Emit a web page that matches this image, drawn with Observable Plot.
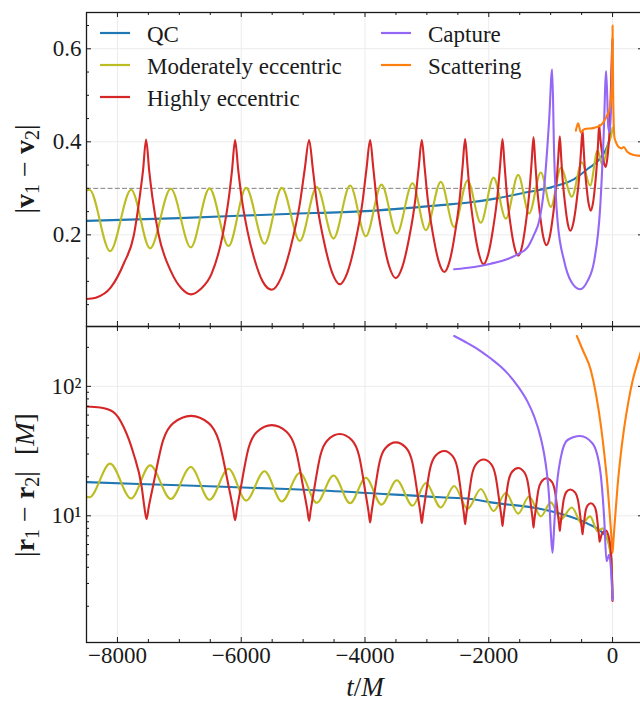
<!DOCTYPE html>
<html><head><meta charset="utf-8">
<script src="https://cdn.jsdelivr.net/npm/d3@7"></script>
<script src="https://cdn.jsdelivr.net/npm/@observablehq/plot@0.6"></script>
<style>
body{margin:0;background:#fff;}
#chart{position:relative;width:640px;height:702px;overflow:hidden;}
#chart svg{position:absolute;left:0;top:0;}
#chart text{font-family:"Liberation Serif",serif;}
</style></head><body><div id="chart"></div>
<script>
// ---------- data: [t/M, value] ----------
const qcV = [[-8500,0.230],[-7000,0.236],[-5263,0.245],[-4000,0.251],[-2775,0.264],[-2290,0.270],[-1850,0.279],[-1480,0.289],[-950,0.304],[-620,0.320],[-400,0.342],[-190,0.366],[-80,0.392],[-20,0.42]];
const modV = [[-8500,0.295],[-8452,0.297],[-8119,0.165],[-7779,0.297],[-7472,0.171],[-7138,0.299],[-6815,0.173],[-6512,0.300],[-6205,0.176],[-5921,0.301],[-5624,0.181],[-5344,0.301],[-5053,0.187],[-4779,0.303],[-4509,0.192],[-4240,0.306],[-3987,0.197],[-3733,0.308],[-3486,0.203],[-3232,0.311],[-3017,0.210],[-2775,0.314],[-2560,0.217],[-2343,0.317],[-2128,0.226],[-1923,0.323],[-1724,0.235],[-1525,0.329],[-1348,0.246],[-1159,0.334],[-997,0.260],[-835,0.344],[-658,0.282],[-496,0.356],[-362,0.306],[-242,0.381],[-162,0.350],[-80,0.39],[-30,0.41],[0,0.43]];
const highV = [[-8500,0.062],[-8350,0.065],[-8107,0.087],[-7892,0.140],[-7737,0.198],[-7637,0.285],[-7587,0.338],[-7537,0.405],
[-7487,0.338],[-7437,0.282],[-7337,0.202],[-7137,0.122],[-6960,0.084],[-6810,0.072],
[-6660,0.083],[-6480,0.116],[-6299,0.200],[-6199,0.281],[-6149,0.338],[-6099,0.404],
[-6049,0.340],[-5999,0.285],[-5899,0.208],[-5780,0.145],[-5654,0.100],[-5506,0.082],
[-5355,0.108],[-5204,0.172],[-5054,0.266],[-4975,0.340],[-4903,0.404],
[-4843,0.342],[-4779,0.271],[-4655,0.181],[-4531,0.119],[-4407,0.094],
[-4285,0.119],[-4162,0.181],[-4040,0.271],[-3976,0.342],[-3917,0.404],
[-3867,0.345],[-3813,0.276],[-3709,0.190],[-3606,0.131],[-3502,0.107],
[-3397,0.131],[-3292,0.190],[-3187,0.276],[-3132,0.345],[-3082,0.404],
[-3038,0.347],[-2991,0.282],[-2900,0.200],[-2809,0.143],[-2718,0.120],
[-2634,0.143],[-2550,0.200],[-2466,0.283],[-2422,0.349],[-2382,0.406],
[-2346,0.352],[-2308,0.290],[-2234,0.212],[-2159,0.159],[-2085,0.137],
[-2008,0.159],[-1932,0.212],[-1855,0.290],[-1815,0.352],[-1778,0.406],
[-1748,0.356],[-1715,0.298],[-1652,0.225],[-1588,0.175],[-1525,0.155],
[-1463,0.175],[-1401,0.226],[-1339,0.300],[-1307,0.358],[-1277,0.410],
[-1252,0.363],[-1225,0.310],[-1172,0.243],[-1120,0.196],[-1067,0.178],
[-1013,0.197],[-960,0.244],[-906,0.311],[-878,0.365],[-852,0.412],
[-832,0.371],[-810,0.325],[-767,0.266],[-725,0.225],[-682,0.209],
[-633,0.226],[-584,0.269],[-534,0.332],[-509,0.382],[-485,0.425],
[-469,0.390],[-452,0.351],[-418,0.300],[-385,0.266],[-351,0.252],
[-318,0.267],[-284,0.304],[-251,0.357],[-233,0.399],[-217,0.436],
[-204,0.418],[-190,0.397],[-163,0.371],[-135,0.353],[-108,0.346],
[-80,0.370],[-50,0.420],[-25,0.520],[-8,0.600],[0,0.620]];
const capV = [[-2560,0.126],[-2236,0.131],[-1967,0.138],[-1697,0.148],[-1535,0.158],[-1374,0.173],[-1267,0.201],[-1186,0.230],[-1105,0.302],[-1025,0.446],[-976,0.556],[-944,0.374],[-889,0.230],[-782,0.144],[-674,0.101],[-524,0.083],[-404,0.101],[-297,0.144],[-200,0.259],[-145,0.410],[-103,0.552],[-68,0.431],[-44,0.42],[-3,0.611]];
const scatV = [[-593,0.424],[-556,0.440],[-512,0.420],[-459,0.427],[-300,0.430],[-189,0.436],[-92,0.456],[-40,0.475],[-12,0.52],[0,0.650],[10,0.50],[30,0.41],[53,0.400],[90,0.390],[123,0.387],[150,0.386],[178,0.389],[242,0.378],[330,0.372],[430,0.370],[500,0.369]];

const qcR = [[-8500,18.2],[-7000,17.2],[-5263,16.1],[-4712,15.7],[-2775,13.9],[-2290,13.5],[-1967,12.7],[-1159,11.3],[-727,10.0],[-404,8.7],[-189,7.6],[-81,6.6],[-27,5.0],[0,2.3]];
const modR = [[-8500,14.0],[-8452,13.9],[-8119,25.3],[-7779,13.6],[-7472,24.5],[-7138,13.5],[-6815,23.8],[-6512,13.3],[-6205,23.1],[-5921,13.1],[-5624,22.1],[-5344,12.9],[-5053,21.4],[-4779,12.6],[-4509,20.5],[-4240,12.5],[-3987,19.7],[-3733,12.2],[-3486,18.8],[-3232,11.97],[-3017,17.9],[-2775,11.6],[-2560,17.0],[-2343,11.3],[-2128,16.1],[-1923,10.9],[-1724,15.0],[-1525,10.4],[-1348,14.1],[-1159,9.9],[-997,12.7],[-835,9.4],[-658,11.6],[-496,8.7],[-362,9.9],[-242,7.6],[-162,8.0],[-80,6.5],[-20,4.5],[0,2.4]];
const highR = [[-8500,69.8],[-8280,68.6],[-8064,63.3],[-7902,48.8],[-7741,30.3],[-7607,16.6],[-7566,11.8],[-7530,9.43],
[-7494,11.7],[-7429,16.6],[-7264,38.1],[-7098,52.0],[-6810,59.2],
[-6526,52.0],[-6362,37.9],[-6199,16.5],[-6135,11.6],[-6099,9.26],
[-6069,11.3],[-6016,15.6],[-5880,33.5],[-5743,44.6],[-5506,50.2],
[-5268,44.6],[-5126,33.4],[-4987,15.5],[-4933,11.2],[-4903,9.14],
[-4878,11.0],[-4834,14.75],[-4719,29.5],[-4605,38.4],[-4407,42.8],
[-4211,38.3],[-4098,29.3],[-3986,14.45],[-3942,10.7],[-3917,8.87],
[-3896,10.5],[-3859,13.8],[-3763,26.2],[-3668,33.4],[-3502,36.9],
[-3334,33.4],[-3237,26.1],[-3141,13.7],[-3103,10.4],[-3082,8.77],
[-3064,10.2],[-3031,13.1],[-2947,23.3],[-2864,29.0],[-2718,31.7],
[-2584,28.9],[-2506,23.2],[-2429,12.9],[-2399,10.1],[-2382,8.61],
[-2367,9.9],[-2340,12.3],[-2272,20.7],[-2204,25.1],[-2085,27.2],
[-1962,25.1],[-1892,20.5],[-1821,12.05],[-1793,9.6],[-1778,8.36],
[-1765,9.45],[-1743,11.5],[-1684,18.3],[-1626,21.8],[-1525,23.4],
[-1426,21.7],[-1369,18.1],[-1312,11.3],[-1289,9.2],[-1277,8.11],
[-1267,9.0],[-1248,10.6],[-1199,15.8],[-1151,18.3],[-1067,19.5],
[-981,18.3],[-932,15.6],[-882,10.2],[-863,8.55],[-852,7.64],
[-844,8.3],[-828,9.6],[-789,13.4],[-750,15.2],[-682,15.96],
[-603,15.1],[-558,13.2],[-513,9.2],[-495,7.9],[-485,7.2],
[-478,7.7],[-466,8.5],[-435,10.95],[-405,12.0],[-351,12.5],
[-295,11.9],[-262,10.6],[-230,7.8],[-217,6.85],[-210,6.31],
[-180,7.1],[-140,7.6],[-108,7.7],[-70,7.1],[-35,5.8],[-10,3.5],[0,2.2]];
const capR = [[-2560,245],[-2344,216],[-2150,190],[-1967,164],[-1800,141],[-1697,126],[-1535,101],[-1374,76.2],[-1267,58.6],[-1159,39.8],[-1105,29.9],[-1062,21.6],[-1025,13.9],[-995,7.1],[-970,5.17],[-945,8.0],[-916,13.9],[-835,28.4],[-727,38.5],[-524,41.3],[-323,36.2],[-200,22.4],[-136,9.7],[-97,4.46],[-55,5.0],[-20,3.5],[0,2.24]];
const scatR = [[-577,245],[-480,190],[-351,133],[-270,88],[-189,50],[-130,29],[-81,17],[-40,9.5],[-15,6.5],[0,5.17],[15,6.5],[40,9.5],[81,17],[130,29],[188,48],[260,78],[323,110],[400,150],[457,185],[500,215]];

const seriesNames = ["QC","Moderately eccentric","Highly eccentric","Capture","Scattering"];
const seriesColors = ["#1f77b4","#bcbd22","#d62728","#9467f7","#ff7f0e"];

const xMajor = [-8000,-6000,-4000,-2000,0];
const xMinor = [-7500,-7000,-6500,-5500,-5000,-4500,-3500,-3000,-2500,-1500,-1000,-500];
const vMajor = [0.2,0.4,0.6];
const vMinor = [0.05,0.1,0.15,0.25,0.3,0.35,0.45,0.5,0.55,0.65];
const rMajor = [10,100];
const rMinor = [2,3,4,5,6,7,8,9,20,30,40,50,60,70,80,90,200];
const vThreshold = [0.3];

// ---------- layout ----------
const FONT = "Liberation Serif, serif";
const W = 640, L = 86, R = -3;
const FW = W - L - R;
const TOPH = 330, TOP_T = 12, TOP_B = 4;
const BOTH = 702, BOT_T = 326, BOT_B = 60;
const FH1 = TOPH - TOP_T - TOP_B, FH2 = BOTH - BOT_T - BOT_B;
const ink = "#1a1a1a", gridC = "#ebebeb";
const MAJ = 5, MIN = 3;
const lw = 2.1;

function tickMarks(xM, xm, yM, ym, FH) {
  const o = {stroke: ink, strokeWidth: 1};
  return [
    Plot.tickX(xM, {...o, x: d => d, insetTop: FH - MAJ}),
    Plot.tickX(xM, {...o, x: d => d, insetBottom: FH - MAJ}),
    Plot.tickX(xm, {...o, x: d => d, insetTop: FH - MIN}),
    Plot.tickX(xm, {...o, x: d => d, insetBottom: FH - MIN}),
    Plot.tickY(yM, {...o, y: d => d, insetRight: FW - MAJ}),
    Plot.tickY(yM, {...o, y: d => d, insetLeft: FW - MAJ}),
    Plot.tickY(ym, {...o, y: d => d, insetRight: FW - MIN}),
    Plot.tickY(ym, {...o, y: d => d, insetLeft: FW - MIN})
  ];
}
function lineMark(data, i) {
  return Plot.line(data, {x: d => d[0], y: d => d[1], stroke: seriesColors[i], strokeWidth: lw, curve: "monotone-x", clip: true});
}
const style = {fontFamily: FONT, fontSize: "23px", background: "transparent", color: ink};
const minusFmt = d => (d < 0 ? "\u2212" : "") + Math.abs(d);

const bottom = Plot.plot({
  width: W, height: BOTH, marginTop: BOT_T, marginBottom: BOT_B, marginLeft: L, marginRight: R,
  x: {domain: [-8500, 500]},
  y: {type: "log", domain: [1.05, 290]},
  style,
  marks: [
    Plot.ruleX(xMajor, {stroke: gridC, strokeWidth: 1}),
    Plot.ruleY(rMajor, {stroke: gridC, strokeWidth: 1}),
    lineMark(qcR, 0), lineMark(modR, 1), lineMark(highR, 2), lineMark(capR, 3), lineMark(scatR, 4),
    Plot.frame({stroke: ink, strokeWidth: 1.3}),
    ...tickMarks(xMajor, xMinor, rMajor, rMinor, FH2),
    Plot.axisX(xMajor, {anchor: "bottom", tickSize: 0, tickPadding: 4, label: null, fontSize: 23, fill: ink, tickFormat: minusFmt}),
    Plot.axisY(rMajor, {anchor: "left", tickSize: 0, tickPadding: 5, label: null, fontSize: 23, fill: ink,
      tickFormat: d => d === 10 ? "10¹" : "10²"})
  ]
});

const topP = Plot.plot({
  width: W, height: TOPH, marginTop: TOP_T, marginBottom: TOP_B, marginLeft: L, marginRight: R,
  x: {domain: [-8500, 500], axis: null},
  y: {domain: [0.003, 0.678]},
  style,
  marks: [
    Plot.ruleX(xMajor, {stroke: gridC, strokeWidth: 1}),
    Plot.ruleY(vMajor, {stroke: gridC, strokeWidth: 1}),
    Plot.ruleY(vThreshold, {stroke: "#808080", strokeWidth: 1, strokeDasharray: "5,2.2"}),
    lineMark(qcV, 0), lineMark(modV, 1), lineMark(highV, 2), lineMark(capV, 3), lineMark(scatV, 4),
    Plot.frame({stroke: ink, strokeWidth: 1.3}),
    ...tickMarks(xMajor, xMinor, vMajor, vMinor, FH1),
    Plot.axisY(vMajor, {anchor: "left", tickSize: 0, tickPadding: 5, label: null, fontSize: 23, fill: ink,
      tickFormat: d3.format(".1f")})
  ]
});

const chart = document.getElementById("chart");
chart.appendChild(bottom);
chart.appendChild(topP);

// ---------- labels ----------
function mathLabel(svg, x, y, letter, italicTail) {
  const t = d3.select(svg).append("text")
    .attr("transform", `translate(${x},${y}) rotate(-90)`)
    .attr("text-anchor", "middle").attr("font-size", 28).attr("fill", ink);
  t.append("tspan").text("|");
  t.append("tspan").attr("font-weight", "bold").text(letter);
  t.append("tspan").attr("font-size", 20).attr("dy", 5).text("1");
  t.append("tspan").attr("dy", -5).text(" − ");
  t.append("tspan").attr("font-weight", "bold").text(letter);
  t.append("tspan").attr("font-size", 20).attr("dy", 5).text("2");
  t.append("tspan").attr("dy", -5).text("|");
  if (italicTail) {
    t.append("tspan").attr("dx", 16).text("[");
    t.append("tspan").attr("font-style", "italic").text("M");
    t.append("tspan").text("]");
  }
}
mathLabel(topP, 34, 169, "v", false);
mathLabel(bottom, 34, 485, "r", true);

const xl = d3.select(bottom).append("text")
  .attr("x", 365).attr("y", 696).attr("text-anchor", "middle")
  .attr("font-size", 27).attr("fill", ink).attr("font-style", "italic");
xl.append("tspan").text("t");
xl.append("tspan").attr("font-style", "normal").text("/");
xl.append("tspan").text("M");

// ---------- legend ----------
const legendPos = [[100, 33], [100, 65], [100, 97], [381, 33], [381, 65]];
const lg = d3.select(topP).append("g");
seriesNames.forEach((name, i) => {
  const [lx, ly] = legendPos[i];
  lg.append("line").attr("x1", lx).attr("x2", lx + 30).attr("y1", ly).attr("y2", ly)
    .attr("stroke", seriesColors[i]).attr("stroke-width", 2.2);
  lg.append("text").attr("x", lx + 47).attr("y", ly + 8.5).attr("text-anchor", "start")
    .attr("font-size", 23).attr("fill", ink).text(name);
});

// force serif font on every text
[topP, bottom].forEach(s => d3.select(s).selectAll("text").attr("font-family", FONT).style("font-family", FONT));
</script>
</body></html>
